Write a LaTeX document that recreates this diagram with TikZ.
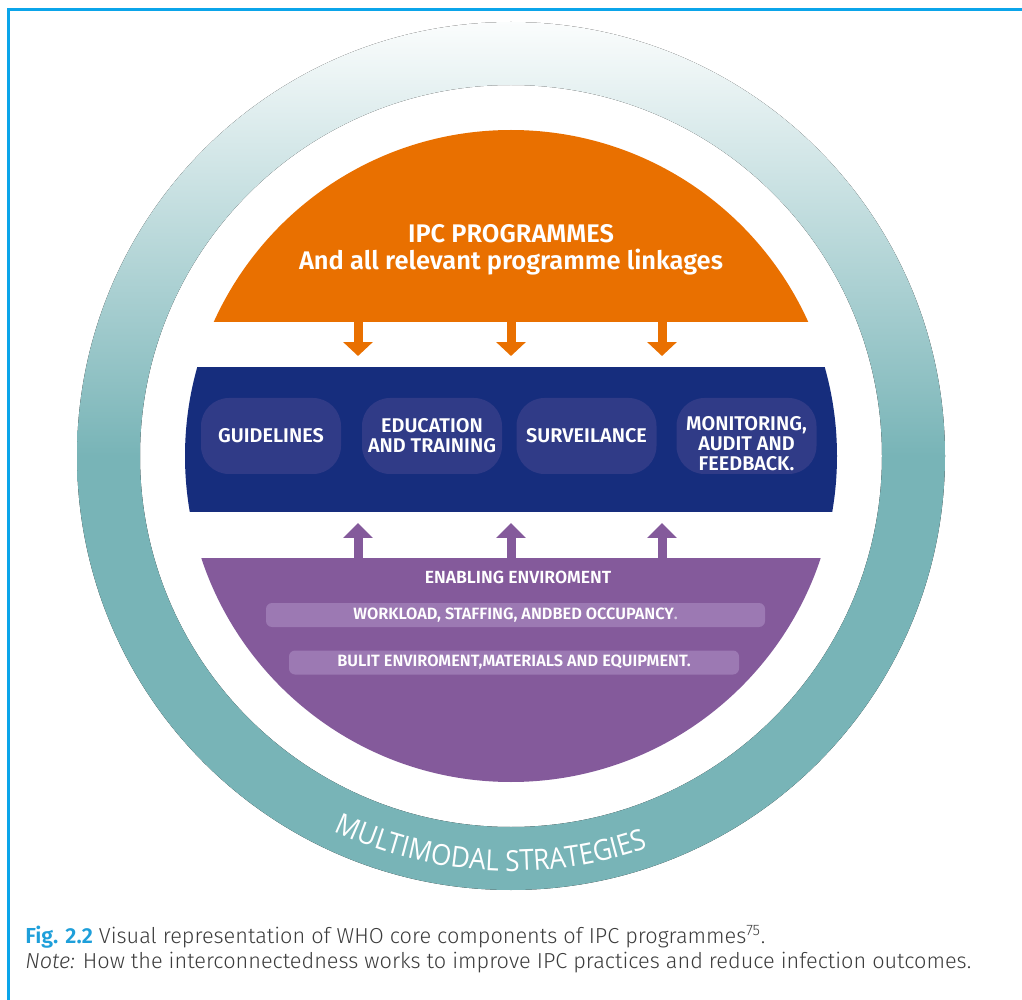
\documentclass[tikz,border=0pt]{standalone}
\usepackage{fontspec}
\setmainfont{Fira Sans}
\newfontfamily\lightfont{Fira Sans Light}[ItalicFont={Fira Sans Light Italic}]
\newfontfamily\semifont{Fira Sans SemiBold}
\newfontfamily\ringfont{Open Sans}[FakeStretch=0.9]
\usetikzlibrary{arrows.meta,decorations.text}

\definecolor{framecol}{HTML}{0BA5EA}
\definecolor{ipcorange}{HTML}{E97000}
\definecolor{corenavy}{HTML}{162D7D}
\definecolor{navybox}{HTML}{303B87}
\definecolor{envpurple}{HTML}{845A9B}
\definecolor{envbox}{HTML}{9C79B3}
\definecolor{ringteal}{HTML}{78B4B7}
\definecolor{figblue}{HTML}{1E9FDA}
\definecolor{captext}{HTML}{3C3C3C}

\newdimen\pxu \pxu=0.02cm

\tikzset{
  ringshade/.style={top color=white!97!ringteal, bottom color=ringteal, middle color=ringteal},
  corebox/.style={fill=navybox, text=white, rounded corners=28\pxu, minimum width=140\pxu,
    minimum height=76\pxu, inner sep=0pt, align=center, font=\semifont\fontsize{11.3}{11.3}\selectfont},
  envbar/.style={fill=envbox, text=white, rounded corners=6\pxu, minimum height=24\pxu,
    inner sep=0pt, font=\semifont\fontsize{9.3}{9.3}\selectfont},
  downarrow/.style={draw=ipcorange, line width=0.18cm, -{Triangle[width=0.58cm,length=0.28cm]}},
  uparrow/.style={draw=envpurple, line width=0.18cm, -{Triangle[width=0.58cm,length=0.3cm]}},
  capline/.style={anchor=base west, inner sep=0pt, text=captext, font=\lightfont\fontsize{12.35}{12.35}\selectfont}
}

\begin{document}
\begin{tikzpicture}[x=0.02cm, y=-0.02cm]
\useasboundingbox (0,0) rectangle (1022,1000);
\fill[white] (0,0) rectangle (1022,1000);
\draw[framecol, line width=3\pxu] (1022,10) -- (8,10) -- (8,1000);

% outer ring
\coordinate (ringc) at (511,456);
\fill[ringshade, even odd rule] (ringc) circle[radius=434] (ringc) circle[radius=371];
\path[decorate, decoration={text along path, text align=center, text color=white,
    text={|\ringfont\fontsize{16.5}{16.5}\selectfont|MULTIMODAL STRATEGIES}}]
  (ringc) ++(133:415) arc[start angle=133, end angle=53, radius=415];

% the three bands of the disc
\begin{scope}
  \clip (ringc) circle[radius=326];
  \fill[ipcorange] (150,100) rectangle (870,322);
  \fill[corenavy] (150,367) rectangle (870,512);
  \fill[envpurple] (150,558) rectangle (870,800);
\end{scope}

\node[text=white, align=center, font=\semifont\fontsize{14.5}{15.3}\selectfont] (ipc) at (511,249.5)
  {IPC PROGRAMMES\\And all relevant programme linkages};

% arrows
\coordinate (ofrom1) at (358,320); \coordinate (oto1) at (358,356);
\coordinate (ofrom2) at (511,320); \coordinate (oto2) at (511,356);
\coordinate (ofrom3) at (662,320); \coordinate (oto3) at (662,356);
\draw[downarrow] (ofrom1) -- (oto1);
\draw[downarrow] (ofrom2) -- (oto2);
\draw[downarrow] (ofrom3) -- (oto3);

\coordinate (pfrom1) at (358,560); \coordinate (pto1) at (358,523);
\coordinate (pfrom2) at (511,560); \coordinate (pto2) at (511,523);
\coordinate (pfrom3) at (662,560); \coordinate (pto3) at (662,523);
\draw[uparrow] (pfrom1) -- (pto1);
\draw[uparrow] (pfrom2) -- (pto2);
\draw[uparrow] (pfrom3) -- (pto3);

% core components
\node[corebox] (guide) at (271,436) {GUIDELINES};
\node[corebox] (educ) at (432,436) {EDUCATION\\AND TRAINING};
\node[corebox] (surv) at (586.5,436) {SURVEILANCE};
\node[corebox] (monit) at (746.5,436)
  {\raisebox{-15\pxu}[0pt][0pt]{\begin{tabular}{@{}c@{}}MONITORING,\\AUDIT AND\\FEEDBACK.\end{tabular}}};

% enabling environment
\node[text=white, font=\semifont\fontsize{10}{10}\selectfont] (enab) at (518,577) {ENABLING ENVIROMENT};
\node[envbar, minimum width=499\pxu] (work) at (515.5,615)
  {WORKLOAD, STAFFING, ANDBED OCCUPANCY\textcolor{envbox!40!white}{.}};
\node[envbar, minimum width=450\pxu] (built) at (514,662.5)
  {BULIT ENVIROMENT,MATERIALS AND EQUIPMENT.};

% caption
\node[capline] (figcap) at (25,943)
  {{\semifont\color{figblue}Fig. 2.2} Visual representation of WHO core components of IPC programmes\textsuperscript{75}.};
\node[capline] (notecap) at (25,968)
  {\textit{Note:} How the interconnectedness works to improve IPC practices and reduce infection outcomes.};
\end{tikzpicture}
\end{document}
